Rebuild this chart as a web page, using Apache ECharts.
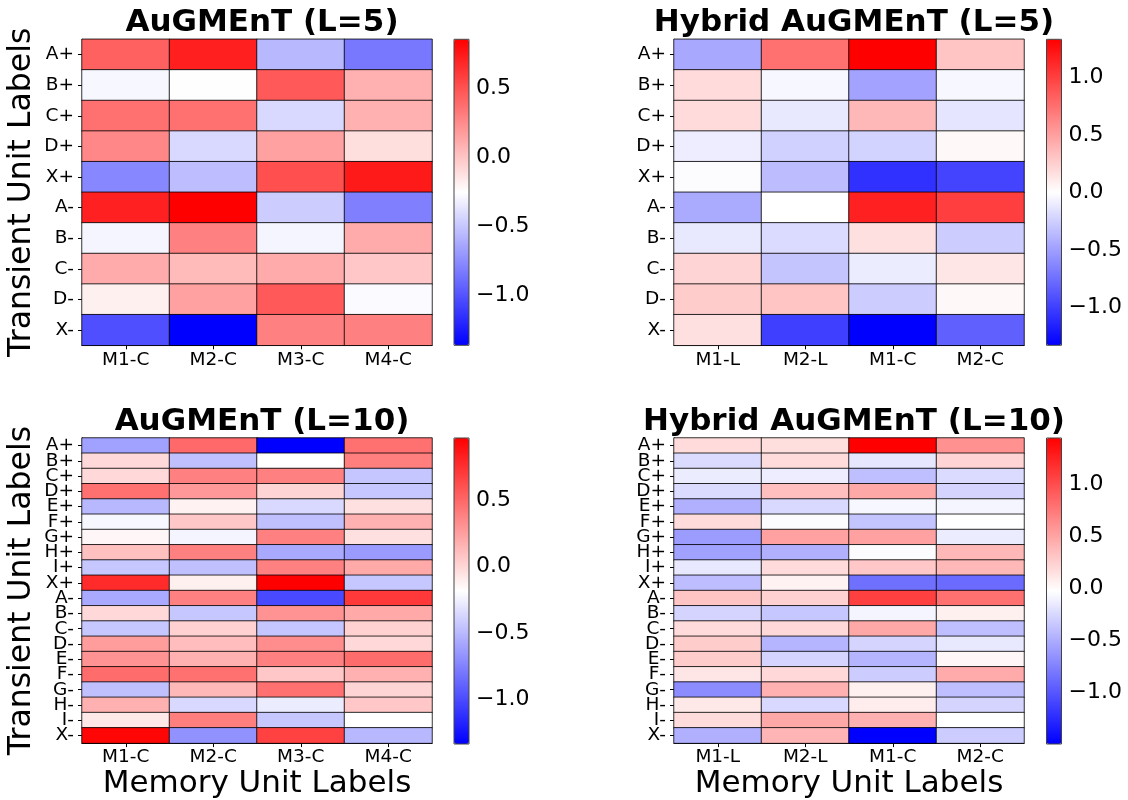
<!DOCTYPE html>
<html>
<head>
<meta charset="utf-8">
<title>AuGMEnT heatmaps</title>
<script src="https://cdn.jsdelivr.net/npm/echarts@6/dist/echarts.min.js"></script>
<style>
html, body { margin: 0; background: #fff; }
#chart { width: 1128px; height: 800px; }
</style>
</head>
<body>
<div id="chart"></div>
<script>
// row / column labels
var rows5 = ['A+', 'B+', 'C+', 'D+', 'X+', 'A-', 'B-', 'C-', 'D-', 'X-']
var rows10 = ['A+', 'B+', 'C+', 'D+', 'E+', 'F+', 'G+', 'H+', 'I+', 'X+',
    'A-', 'B-', 'C-', 'D-', 'E-', 'F-', 'G-', 'H-', 'I-', 'X-']
var colsAug = ['M1-C', 'M2-C', 'M3-C', 'M4-C']
var colsHyb = ['M1-L', 'M2-L', 'M1-C', 'M2-C']

// AuGMEnT (L=5), one row per transient unit
var aug5 = [
    [0.434, 0.722, -0.563, -0.839],
    [-0.286, -0.250, 0.467, 0.091],
    [0.368, 0.368, -0.419, 0.091],
    [0.268, -0.419, 0.157, -0.108],
    [-0.773, -0.540, 0.512, 0.744],
    [0.711, 0.855, -0.474, -0.806],
    [-0.296, 0.301, -0.296, 0.113],
    [0.113, 0.047, 0.113, -0.009],
    [-0.186, 0.157, 0.467, -0.275],
    [-1.017, -1.360, 0.301, 0.301]
]

// Hybrid AuGMEnT (L=5)
var hyb5 = [
    [-0.453, 0.746, 1.330, 0.307],
    [0.187, -0.040, -0.480, -0.040],
    [0.187, -0.120, 0.373, -0.133],
    [-0.093, -0.240, -0.227, 0.040],
    [-0.013, -0.347, -1.080, -0.973],
    [-0.440, 0.000, 1.160, 1.000],
    [-0.120, -0.187, 0.160, -0.267],
    [0.227, -0.307, -0.100, 0.133],
    [0.267, 0.307, -0.267, 0.040],
    [0.160, -1.000, -1.328, -0.827]
]

// AuGMEnT (L=10)
var aug10 = [
    [-0.608, 0.493, -1.337, 0.459],
    [-0.012, -0.470, -0.184, 0.401],
    [-0.012, 0.390, 0.390, -0.447],
    [0.459, 0.275, 0.011, -0.436],
    [-0.505, -0.126, -0.356, -0.046],
    [-0.218, 0.069, -0.470, 0.172],
    [-0.149, -0.229, 0.390, -0.046],
    [0.103, 0.390, -0.573, -0.642],
    [-0.436, -0.470, 0.390, 0.206],
    [0.780, -0.115, 0.969, -0.436],
    [-0.573, 0.390, -1.009, 0.711],
    [-0.012, -0.436, 0.310, 0.206],
    [-0.436, 0.023, -0.447, 0.023],
    [0.264, 0.115, 0.332, -0.012],
    [0.310, 0.172, 0.390, 0.481],
    [0.481, 0.459, 0.069, 0.172],
    [-0.470, 0.138, 0.459, 0.011],
    [0.172, -0.356, -0.270, 0.069],
    [-0.080, 0.401, -0.436, -0.184],
    [0.940, -0.676, 0.676, -0.505]
]

// Hybrid AuGMEnT (L=10)
var hyb10 = [
    [0.184, 0.169, 1.450, 0.611],
    [-0.228, 0.184, -0.169, 0.228],
    [-0.132, -0.125, -0.390, -0.228],
    [-0.228, 0.346, 0.478, -0.272],
    [-0.478, -0.243, -0.066, -0.081],
    [0.184, -0.037, -0.361, -0.022],
    [-0.596, 0.523, 0.523, -0.132],
    [-0.567, -0.478, -0.037, 0.390],
    [-0.154, 0.184, 0.302, 0.390],
    [-0.405, 0.052, -0.846, -0.876],
    [0.317, 0.243, 1.082, 0.802],
    [-0.272, -0.346, -0.081, 0.066],
    [0.184, 0.199, 0.478, -0.390],
    [0.272, -0.449, -0.272, -0.154],
    [0.272, -0.272, -0.449, 0.022],
    [0.125, 0.199, -0.316, 0.464],
    [-0.684, 0.434, 0.066, -0.390],
    [0.110, -0.243, 0.088, -0.272],
    [0.184, 0.478, 0.434, -0.022],
    [-0.478, 0.405, -1.494, -0.316]
]

// colorbar tick values
var cbTicksAug = [-1.0, -0.5, 0.0, 0.5]
var cbTicksHyb = [-1.0, -0.5, 0.0, 0.5, 1.0]

var titles = ['AuGMEnT (L=5)', 'Hybrid AuGMEnT (L=5)', 'AuGMEnT (L=10)', 'Hybrid AuGMEnT (L=10)']
var yTitle = 'Transient Unit Labels'
var xTitle = 'Memory Unit Labels'

var FONT = 'DejaVu Sans'
var panels = [
    { data: aug5, rows: rows5, cols: colsAug, ticks: cbTicksAug, left: 82, top: 39.3, cbLeft: 454, yName: true, xName: false },
    { data: hyb5, rows: rows5, cols: colsHyb, ticks: cbTicksHyb, left: 674, top: 39.3, cbLeft: 1046.5, yName: false, xName: false },
    { data: aug10, rows: rows10, cols: colsAug, ticks: cbTicksAug, left: 82, top: 438, cbLeft: 454, yName: true, xName: true },
    { data: hyb10, rows: rows10, cols: colsHyb, ticks: cbTicksHyb, left: 674, top: 438, cbLeft: 1046.5, yName: false, xName: true }
]
var W = 350
var H = 306
var CBW = 15

function fmt(v) {
    var s = Math.abs(v).toFixed(1)
    return v < 0 ? '\u2212' + s : s
}

var option = {
    backgroundColor: '#fff',
    animation: false,
    textStyle: { fontFamily: FONT, color: '#000' },
    title: [],
    grid: [],
    xAxis: [],
    yAxis: [],
    visualMap: [],
    series: []
}

panels.forEach(function(p, i) {
    var cells = []
    var lo = Infinity
    var hi = -Infinity
    p.data.forEach(function(row, r) {
        row.forEach(function(v, c) {
            cells.push([c, r, v])
            lo = Math.min(lo, v)
            hi = Math.max(hi, v)
        })
    })

    option.title.push({
        text: titles[i],
        left: p.left + W / 2,
        top: p.top - 37,
        textAlign: 'center',
        textStyle: { fontFamily: FONT, fontSize: 31, fontWeight: 'bold', color: '#000' }
    })

    // heatmap grid
    option.grid.push({ left: p.left, top: p.top, width: W, height: H })
    option.xAxis.push({
        type: 'category',
        gridIndex: i,
        data: p.cols,
        name: p.xName ? xTitle : '',
        nameLocation: 'middle',
        nameGap: 23,
        nameTextStyle: { fontFamily: FONT, fontSize: 31, color: '#000' },
        axisLine: { show: true, lineStyle: { color: '#000', width: 1 } },
        axisTick: { show: true, alignWithLabel: true, length: 4, lineStyle: { color: '#000' } },
        axisLabel: { fontFamily: FONT, fontSize: 18.5, color: '#000', margin: 5, interval: 0 },
        splitLine: { show: false },
        splitArea: { show: false }
    })
    option.yAxis.push({
        type: 'category',
        gridIndex: i,
        data: p.rows,
        inverse: true,
        name: p.yName ? yTitle : '',
        nameLocation: 'middle',
        nameRotate: 90,
        nameGap: 44,
        nameTextStyle: { fontFamily: FONT, fontSize: 31.5, color: '#000' },
        axisLine: { show: true, lineStyle: { color: '#000', width: 1 } },
        axisTick: { show: true, alignWithLabel: true, length: 4, lineStyle: { color: '#000' } },
        axisLabel: { fontFamily: FONT, fontSize: 18.5, color: '#000', margin: 8, interval: 0, hideOverlap: false },
        splitLine: { show: false },
        splitArea: { show: false }
    })
    option.series.push({
        type: 'heatmap',
        xAxisIndex: i,
        yAxisIndex: i,
        data: cells,
        itemStyle: { borderColor: 'rgba(0,0,0,0.8)', borderWidth: 1 },
        emphasis: { disabled: true }
    })

    option.visualMap.push({
        type: 'continuous',
        seriesIndex: i,
        min: lo,
        max: hi,
        calculable: false,
        hoverLink: false,
        orient: 'vertical',
        left: p.cbLeft,
        top: p.top,
        itemWidth: CBW,
        itemHeight: H,
        padding: 0,
        inRange: { color: ['#0000ff', '#ffffff', '#ff0000'] }
    })
    p.lo = lo
    p.hi = hi
})

// colorbar axes
panels.forEach(function(p, i) {
    var g = 4 + i
    option.grid.push({ left: p.cbLeft, top: p.top, width: CBW, height: H, show: true, borderColor: '#444', borderWidth: 1, z: 10, backgroundColor: 'transparent' })
    option.xAxis.push({ type: 'value', gridIndex: g, show: false })
    option.yAxis.push({
        type: 'value',
        gridIndex: g,
        position: 'right',
        min: p.lo,
        max: p.hi,
        axisLine: { show: false },
        axisTick: { show: true, length: 4, customValues: p.ticks, lineStyle: { color: '#000' } },
        axisLabel: { fontFamily: FONT, fontSize: 22, color: '#000', margin: 7, customValues: p.ticks, formatter: fmt },
        splitLine: { show: false }
    })
})

var chart = echarts.init(document.getElementById('chart'))
chart.setOption(option)
</script>
</body>
</html>
